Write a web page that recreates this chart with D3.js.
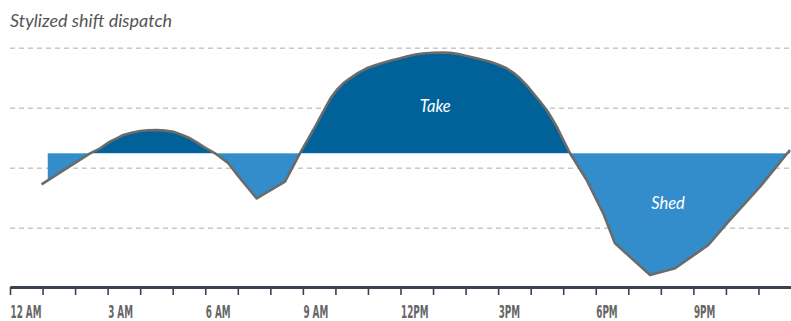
<!DOCTYPE html>
<html>
<head>
<meta charset="utf-8">
<script src="https://cdn.jsdelivr.net/npm/d3@7"></script>
<style>
  html, body { margin: 0; padding: 0; background: #fff; }
  svg { display: block; }
</style>
</head>
<body>
<svg id="chart" width="791" height="321"></svg>
<script>
// Hour of day for each sample of the dispatch curve
const hours = [
  0.97, 2.46, 2.77, 3.07, 3.28, 3.48, 3.74, 4.00, 4.25, 4.51,
  4.76, 5.02, 5.27, 5.53, 5.74, 5.94, 6.30, 6.71, 6.97, 7.58,
  8.45, 8.91, 9.32, 9.68, 9.85, 10.04, 10.24, 10.45, 10.70, 10.96,
  11.22, 11.47, 11.73, 11.99, 12.25, 12.50, 12.76, 13.01, 13.27, 13.52,
  13.78, 14.03, 14.40, 14.75, 15.01, 15.26, 15.47, 15.67, 15.88, 16.08,
  16.29, 16.49, 16.65, 16.80, 17.00, 17.21, 17.72, 18.23, 18.59, 19.67,
  20.44, 21.46, 22.03, 23.05, 23.97
];
// Net dispatch at each sample (positive = take, negative = shed)
const dispatch = [
  -31, 0, 5, 11.6, 15, 18.3, 20.6, 22.3, 23.0, 23.3,
  22.7, 21.6, 18.6, 15, 11, 6.6, 0, -10, -21, -45,
  -28.4, 0, 23.3, 45, 55, 63.3, 70, 75, 80.5, 85,
  88, 90.6, 93, 95, 97.2, 99, 100, 100.6, 100.8, 100.6,
  99.2, 97.3, 94.6, 91.6, 88.6, 85, 80.5, 75, 68, 60,
  51.8, 43.3, 35, 26.6, 13.5, 0, -26.7, -60, -90, -121.7,
  -115, -91.7, -70, -33.4, 3.3
];
// Hour at which the shaded areas begin
const fillStartHour = 1.16;

// Axis ticks (every hour) and their labels (every third hour)
const tickHours = d3.range(0, 24);
const tickLabels = ["12 AM", "3 AM", "6 AM", "9 AM", "12PM", "3PM", "6PM", "9PM"];
// Reference gridline levels
const gridLevels = [105, 45, -15, -75];

// Annotations
const annotations = [
  { text: "Take", hour: 13.07, value: 41.6 },
  { text: "Shed", hour: 20.22, value: -55.7 }
];

const W = 791, H = 321;
const x = d3.scaleLinear().domain([0, 24]).range([10, 791]);
const y = d3.scaleLinear().domain([-135, 115]).range([288.3, 38.3]);
const axisY = 287;

const data = hours.map((h, i) => ({ h, v: dispatch[i] }));
const svg = d3.select("#chart");

// Title
svg.append("text")
  .attr("x", 10).attr("y", 26.5)
  .attr("font-family", "Lato, 'Open Sans', sans-serif")
  .attr("font-style", "italic")
  .attr("font-size", 18)
  .attr("fill", "#555")
  .text("Stylized shift dispatch");

// Gridlines
svg.append("g").selectAll("line").data(gridLevels).join("line")
  .attr("x1", 10).attr("x2", W)
  .attr("y1", d => y(d)).attr("y2", d => y(d))
  .attr("stroke", "#c8c8c8")
  .attr("stroke-width", 1.4)
  .attr("stroke-dasharray", "5,4");

// Clip regions above / below the zero line
const defs = svg.append("defs");
defs.append("clipPath").attr("id", "clip-take").append("rect")
  .attr("x", x(fillStartHour)).attr("y", 0)
  .attr("width", W - x(fillStartHour)).attr("height", y(0));
defs.append("clipPath").attr("id", "clip-shed").append("rect")
  .attr("x", x(fillStartHour)).attr("y", y(0))
  .attr("width", W - x(fillStartHour)).attr("height", H - y(0));

const area = d3.area()
  .x(d => x(d.h))
  .y0(y(0))
  .y1(d => y(d.v))
  .curve(d3.curveLinear);

svg.append("path").datum(data)
  .attr("d", area)
  .attr("fill", "#01629a")
  .attr("clip-path", "url(#clip-take)");

svg.append("path").datum(data)
  .attr("d", area)
  .attr("fill", "#338dcb")
  .attr("clip-path", "url(#clip-shed)");

// Dispatch line
const line = d3.line().x(d => x(d.h)).y(d => y(d.v)).curve(d3.curveLinear);
svg.append("path").datum(data)
  .attr("d", line)
  .attr("fill", "none")
  .attr("stroke", "#6b6b6b")
  .attr("stroke-width", 2.6)
  .attr("stroke-linejoin", "round");

// Annotations
svg.append("g").selectAll("text").data(annotations).join("text")
  .attr("x", d => x(d.hour)).attr("y", d => y(d.value))
  .attr("text-anchor", "middle")
  .attr("font-family", "Lato, 'Open Sans', sans-serif")
  .attr("font-style", "italic")
  .attr("font-size", 16.5)
  .attr("fill", "#fff")
  .text(d => d.text);

// X axis
const xAxis = d3.axisBottom(x)
  .tickValues(tickHours)
  .tickSize(8)
  .tickSizeOuter(0)
  .tickFormat(h => (h % 3 === 0 ? tickLabels[h / 3] : ""));

const gx = svg.append("g").attr("transform", `translate(0,${axisY})`).call(xAxis);
gx.select(".domain").attr("stroke", "#3a4350").attr("stroke-width", 3);
gx.selectAll(".tick line").attr("stroke", "#3a4350").attr("stroke-width", 1.6);
gx.selectAll(".tick text")
  .attr("text-anchor", "start")
  .attr("x", 0).attr("y", 31).attr("dy", 0)
  .attr("transform", "scale(0.56,1)")
  .attr("font-family", "'Liberation Sans Narrow', 'DejaVu Sans Condensed', sans-serif")
  .attr("font-weight", "bold")
  .attr("font-size", 17.5)
  .attr("fill", "#666");
</script>
</body>
</html>
